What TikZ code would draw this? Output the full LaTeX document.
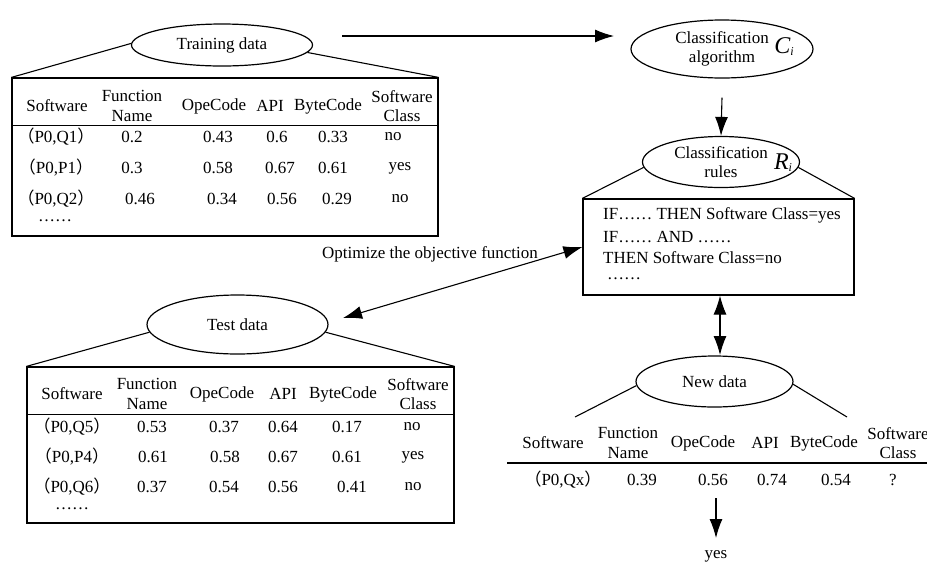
\documentclass[tikz,border=0pt]{standalone}
\usepackage{fontspec}
\setmainfont{Liberation Serif}
\newfontfamily\cjkf{Noto Sans CJK SC}
\usetikzlibrary{shapes.geometric,arrows.meta,calc}
\newcommand{\lpar}{{\cjkf （}}
\newcommand{\rpar}{{\cjkf ）}}
\newcommand{\sym}[2]{{\fontsize{24}{24}\selectfont\itshape #1}\raisebox{-2pt}{\fontsize{12}{12}\selectfont\itshape #2}}
\begin{document}
\begin{tikzpicture}[x=1pt,y=-1pt,
  font=\fontsize{17}{19.5}\selectfont,
  ell/.style={draw, ellipse, inner sep=0pt, line width=1.2pt, align=center},
  box/.style={draw, rectangle, inner sep=0pt, line width=1.2pt},
  cell/.style={inner sep=0pt, align=center},
  conn/.style={line width=1.1pt},
  arr/.style={line width=1.1pt, -{Latex[length=19pt,width=13pt]}},
  darr/.style={line width=1.1pt, {Latex[length=19pt,width=13pt]}-{Latex[length=19pt,width=13pt]}}]
\useasboundingbox (0,0) rectangle (927,566);

% ---------------- Training data ----------------
\node[ell, minimum width=181pt, minimum height=42pt] (tr) at (222,45) {Training data};
\node[box, minimum width=426pt, minimum height=158pt] (trbox) at (225,157) {};
\draw[conn] (trbox.north west) -- (tr.179);
\draw[conn] (trbox.north east) -- (tr.-5);
\draw[conn] ($(trbox.north west)+(0,48)$) -- ($(trbox.north east)+(-2,48)$);
\foreach \x/\t [count=\i] in {57/Software, 132/{Function\\Name}, 214/OpeCode, 270/API, 328/ByteCode, 402/{Software\\Class}}
  \node[cell] (trh\i) at (\x,106) {\t};
\foreach \x/\t [count=\i] in {56/{\lpar P0,Q1\rpar}, 132/0.2, 218/0.43, 277/0.6, 333/0.33, 393/no}
  \node[cell] (tra\i) at (\x,137) {\t};
\foreach \x/\t [count=\i] in {56/{\lpar P0,P1\rpar}, 132/0.3, 218/0.58, 280/0.67, 333/0.61, 400/yes}
  \node[cell] (trb\i) at (\x,168) {\t};
\foreach \x/\t [count=\i] in {56/{\lpar P0,Q2\rpar}, 140/0.46, 222/0.34, 282/0.56, 337/0.29, 400/no}
  \node[cell] (trc\i) at (\x,199) {\t};
\node[cell] (trdots) at (55,221) {……};

% ---------------- Classification algorithm ----------------
\node[ell, minimum width=182pt, minimum height=58pt] (alg) at (722,49) {Classification\\algorithm};
\node[cell] (ci) at (784,47) {\sym{C}{i}};
\coordinate (a1s) at (342,36);
\coordinate (a1e) at (614,36);
\draw[arr] (a1s) -- (a1e);

% ---------------- Classification rules ----------------
\node[ell, minimum width=157pt, minimum height=51pt] (rul) at (721,162) {Classification\\rules};
\node[cell] (ri) at (783,163) {\sym{R}{i}};
\draw[arr] ($(alg.south)+(0,19)$) -- (rul.north);
\node[box, minimum width=271pt, minimum height=96pt] (rbox) at (718.5,247) {};
\draw[conn] (rbox.north west) -- (rul.184);
\draw[conn] (rbox.north east) -- (rul.-4);
\node[cell, anchor=west] (r1) at (603,215) {IF…… THEN Software Class=yes};
\node[cell, anchor=west] (r2) at (603,237) {IF…… AND ……};
\node[cell, anchor=west] (r3) at (603,258) {THEN Software Class=no};
\node[cell, anchor=west] (r4) at (607,279) {……};

% ---------------- Optimize ----------------
\node[cell] (opt) at (430,254) {Optimize the objective function};
\coordinate (optend) at (343,318);
\draw[darr] (optend) -- (rbox.west);

% ---------------- Test data ----------------
\node[ell, minimum width=181pt, minimum height=59pt] (te) at (237.5,324.5) {Test data};
\node[box, minimum width=427pt, minimum height=156pt] (tebox) at (240.5,445) {};
\draw[conn] (tebox.north west) -- (te.185);
\draw[conn] (tebox.north east) -- (te.-5);
\draw[conn] ($(tebox.north west)+(0,48)$) -- ($(tebox.north east)+(-2,48)$);
\foreach \x/\t [count=\i] in {72/Software, 147/{Function\\Name}, 222/OpeCode, 283/API, 343/ByteCode, 418/{Software\\Class}}
  \node[cell] (teh\i) at (\x,394) {\t};
\foreach \x/\t [count=\i] in {72/{\lpar P0,Q5\rpar}, 152/0.53, 224/0.37, 283/0.64, 347/0.17, 412/no}
  \node[cell] (tea\i) at (\x,427) {\t};
\foreach \x/\t [count=\i] in {72/{\lpar P0,P4\rpar}, 153/0.61, 225/0.58, 283/0.67, 347/0.61, 413/yes}
  \node[cell] (teb\i) at (\x,457) {\t};
\foreach \x/\t [count=\i] in {72/{\lpar P0,Q6\rpar}, 152/0.37, 224/0.54, 283/0.56, 352/0.41, 413/no}
  \node[cell] (tec\i) at (\x,487) {\t};
\node[cell] (tedots) at (72,509) {……};

% ---------------- New data ----------------
\node[ell, minimum width=157pt, minimum height=51pt] (nd) at (714.5,381.5) {New data};
\draw[darr] (rbox.south -| 720,0) -- (720,355);
\coordinate (ndl) at (575,417);
\coordinate (ndr) at (847,417);
\draw[conn] (nd.183) -- (ndl);
\draw[conn] (nd.-2) -- (ndr);
\coordinate (ndhl) at (507,463);
\coordinate (ndhr) at (927,463);
\draw[conn] (ndhl) -- (ndhr);
\foreach \x/\t [count=\i] in {553/Software, 628/{Function\\Name}, 703/OpeCode, 765/API, 824/ByteCode, 898/{Software\\Class}}
  \node[cell] (ndh\i) at (\x,443) {\t};
\foreach \x/\t [count=\i] in {563/{\lpar P0,Qx\rpar}, 642/0.39, 713/0.56, 772/0.74, 836/0.54, 893/?}
  \node[cell] (nda\i) at (\x,480) {\t};
\node[cell] (yes) at (716,556) {yes};
\coordinate (ys) at (716,498);
\coordinate (ye) at (716,538);
\draw[arr] (ys) -- (ye);
\end{tikzpicture}
\end{document}
